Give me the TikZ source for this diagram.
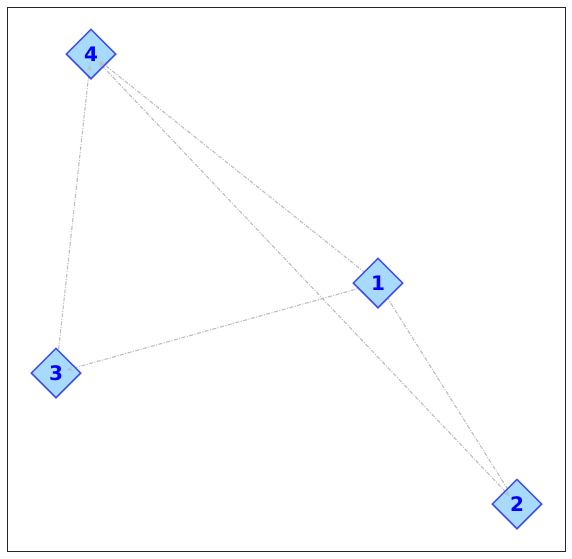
\documentclass[tikz,border=0pt]{standalone}
\usepackage{fontspec}
\setsansfont{DejaVu Sans}
\usetikzlibrary{shapes.geometric,arrows.meta,decorations.markings}
\definecolor{nodefill}{HTML}{A8DAFD}
\definecolor{nodeline}{HTML}{3F4FEF}
\definecolor{edgecol}{HTML}{BDBDBD}
\tikzset{
  vert/.style={diamond, aspect=1, minimum width=50pt, minimum height=50pt, inner sep=0pt,
    fill=nodefill, draw=nodeline, line width=1.5pt,
    font=\fontsize{20}{20}\selectfont\sffamily\bfseries, text=blue},
  edge/.style={draw=edgecol, line width=1.1pt, dash pattern=on 4pt off 1.5pt on 1pt off 1.5pt},
  tipmark/.style={postaction={decorate}, decoration={markings,
    mark=at position -11pt with {\arrow[edgecol, opacity=0.8]{Stealth[length=6pt,width=5pt]}}}}
}
\begin{document}
\begin{tikzpicture}[x=1pt,y=-1pt]
\useasboundingbox (0,0) rectangle (572,558);
\draw[draw=black!85, line width=1pt] (7,7) rectangle (565,551);
\coordinate (c4) at (91,54);
\coordinate (c1) at (378,283);
\coordinate (c3) at (56,373);
\coordinate (c2) at (517,504);
\draw[edge] (c1) -- (c4);
\draw[edge] (c2) -- (c4);
\draw[edge] (c3) -- (c4);
\draw[edge] (c1) -- (c3);
\draw[edge] (c1) -- (c2);
\node[vert] (n4) at (c4) {4};
\node[vert] (n1) at (c1) {1};
\node[vert] (n3) at (c3) {3};
\node[vert] (n2) at (c2) {2};
\path[tipmark] (c1) -- (c4);
\path[tipmark] (c2) -- (c4);
\path[tipmark] (c3) -- (c4);
\path[tipmark] (c1) -- (c3);
\path[tipmark] (c4) -- (c2);
\end{tikzpicture}
\end{document}
